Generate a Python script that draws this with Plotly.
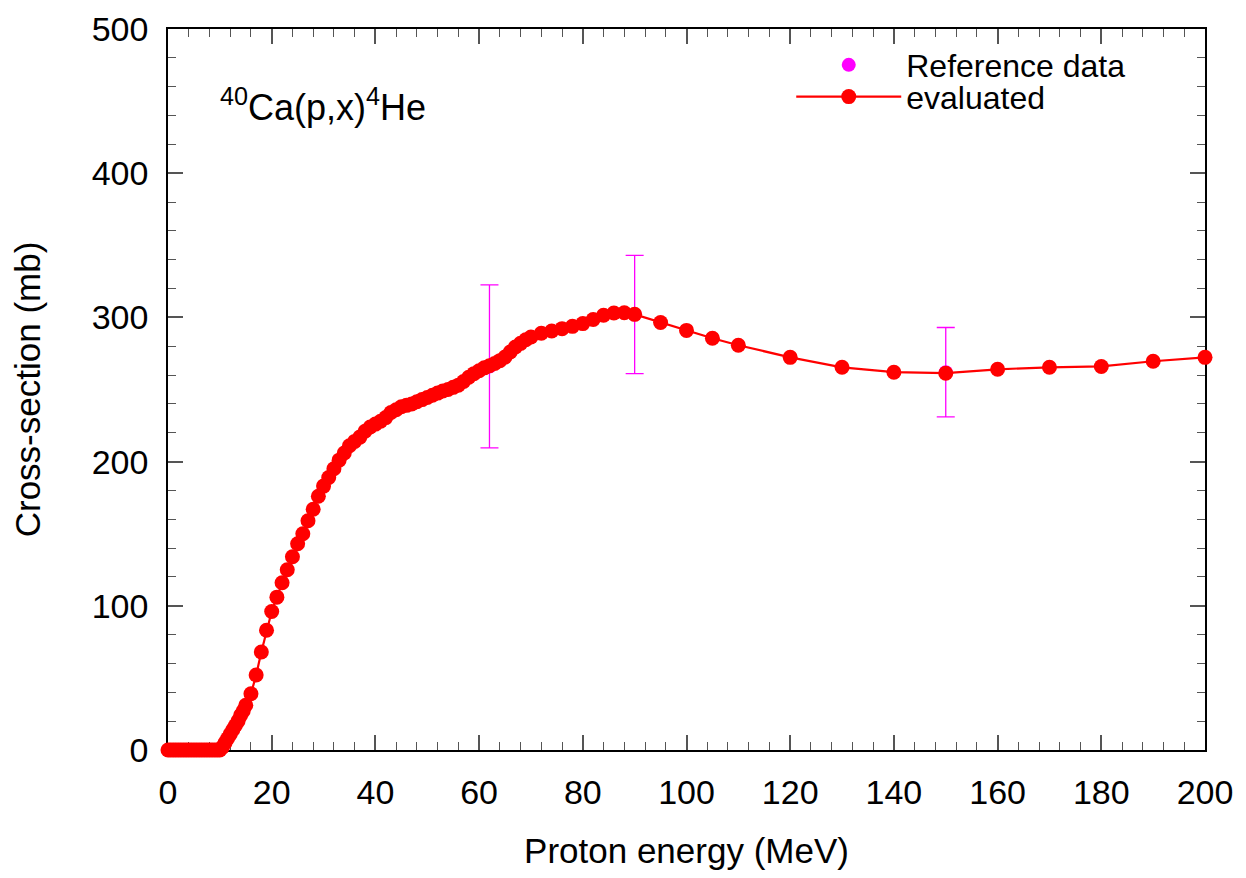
import plotly.graph_objects as go

# ---- evaluated curve: proton energy (MeV) and cross-section (mb)
eval_energy = [0, 0.5, 1, 1.5, 2, 2.5, 3, 3.5, 4, 4.5, 5, 5.5, 6, 6.5, 7, 7.5, 8, 8.5, 9, 9.5,
               10, 10.5, 11, 11.5, 12, 12.5, 13, 13.5, 14, 14.5, 15,
               16, 17, 18, 19, 20, 21, 22, 23, 24, 25, 26, 27, 28, 29, 30,
               31, 32, 33, 34, 35, 36, 37, 38, 39, 40, 41, 42, 43, 44, 45,
               46, 47, 48, 49, 50, 51, 52, 53, 54, 55, 56, 57, 58, 59, 60,
               61, 62, 63, 64, 65, 66, 67, 68, 69, 70,
               72, 74, 76, 78, 80, 82, 84, 86, 88, 90,
               95, 100, 105, 110, 120, 130, 140, 150, 160, 170, 180, 190, 200]
eval_xs = [0, 0, 0, 0, 0, 0, 0, 0, 0, 0, 0, 0, 0, 0, 0, 0, 0, 0, 0, 0,
           0, 2, 5, 8, 11, 14, 17, 20, 24, 27, 31,
           39, 52, 68, 83, 96, 106, 116, 125, 134, 143, 150, 159, 167, 176, 183,
           189, 195, 201, 206, 211, 214, 217, 221, 224, 226, 228, 230.5, 234, 236, 238,
           239, 240, 241.5, 243, 244.5, 246, 247.5, 249, 250, 251.5, 253, 255.5, 258.5, 261, 263,
           265, 266.5, 268, 270, 272.5, 276, 279.5, 282, 284.5, 286.4,
           289, 290.6, 292.2, 293.8, 295.7, 298.5, 301.5, 303, 303.2, 302.1,
           296.5, 291, 285.5, 280.7, 272.3, 265.4, 262, 261.3, 264, 265.4, 266, 269.6, 272.3]

# ---- reference data with uncertainties
ref_energy = [62, 90, 150]
ref_xs = [266, 302, 262]
ref_err = [56.5, 41, 31]

x_ticks = [0, 20, 40, 60, 80, 100, 120, 140, 160, 180, 200]
y_ticks = [0, 100, 200, 300, 400, 500]

FONT = "Liberation Sans, Arial, sans-serif"

fig = go.Figure()
fig.add_trace(go.Scatter(
    x=ref_energy, y=ref_xs, mode="markers", name="Reference data",
    marker=dict(color="#ff00ff", size=14),
    error_y=dict(type="data", array=ref_err, visible=True, color="#ff00ff",
                 thickness=1.3, width=9),
    cliponaxis=False, legend="legend",
))
fig.add_trace(go.Scatter(
    x=eval_energy, y=eval_xs, mode="lines+markers", name="evaluated",
    line=dict(color="#ff0000", width=2.2),
    marker=dict(color="#ff0000", size=15),
    cliponaxis=False, legend="legend2",
))

axis_common = dict(
    showgrid=False, zeroline=False, showline=True, linecolor="black", linewidth=1.5,
    mirror="allticks", ticks="inside", ticklen=15, tickwidth=1.5, tickcolor="#555555",
    tickfont=dict(family=FONT, size=34, color="black"),
    layer="below traces", automargin=False,
)

fig.update_xaxes(
    **axis_common, range=[0, 200], tickvals=x_ticks,
    minor=dict(ticks="inside", ticklen=8, tickwidth=1.2, tickcolor="#555555", dtick=4, showgrid=False),
    title=dict(text="Proton energy (MeV)", font=dict(family=FONT, size=35, color="black"), standoff=35),
    ticklabelstandoff=11,
)
fig.update_yaxes(
    **axis_common, range=[0, 500], tickvals=y_ticks,
    minor=dict(ticks="inside", ticklen=8, tickwidth=1.2, tickcolor="#555555", dtick=20, showgrid=False),
    title=dict(text="Cross-section (mb)", font=dict(family=FONT, size=35, color="black"), standoff=40),
    ticklabelstandoff=11,
)

fig.add_annotation(
    text="<sup>40</sup>Ca(p,x)<sup>4</sup>He", xref="paper", yref="paper",
    x=0.048, y=0.895, xanchor="left", yanchor="middle", showarrow=False,
    font=dict(family=FONT, size=36, color="black"),
)

leg_common = dict(xanchor="left", yanchor="middle",
                  font=dict(family=FONT, size=32, color="black"),
                  bgcolor="rgba(0,0,0,0)", itemwidth=105, tracegroupgap=0)

# page offset of 8px (browser body margin) is compensated in the figure size / margins
fig.update_layout(
    width=1230, height=862,
    margin=dict(l=160, r=33, t=21, b=120, autoexpand=False),
    paper_bgcolor="white", plot_bgcolor="white",
    font=dict(family=FONT, color="black"),
    legend=dict(x=0.601, y=0.950, **leg_common),
    legend2=dict(x=0.601, y=0.906, **leg_common),
    showlegend=True,
)

fig.write_html("out.html")
